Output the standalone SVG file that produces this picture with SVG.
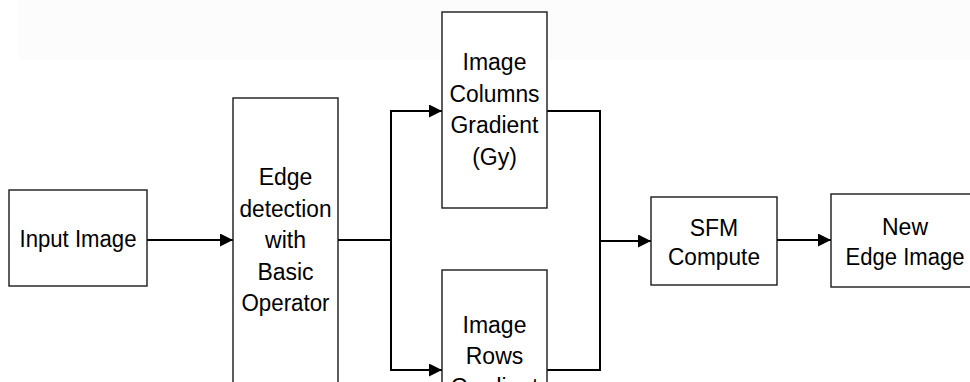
<svg xmlns="http://www.w3.org/2000/svg" width="970" height="382" viewBox="0 0 970 382">
  <style>
    .box { fill: #ffffff; stroke: #1a1a1a; stroke-width: 1.4; }
    .lbl { font-family: "Liberation Sans", Arial, sans-serif; font-size: 23px; fill: #000000; text-anchor: middle; }
    .wire { fill: none; stroke: #000000; stroke-width: 2; }
  </style>
  <defs>
    <marker id="arrow" viewBox="0 0 13 13" refX="13" refY="6.5" markerWidth="13" markerHeight="13" markerUnits="userSpaceOnUse" orient="auto">
      <path d="M0,0 L13,6.5 L0,13 Z" fill="#000000"/>
    </marker>
  </defs>

  <rect width="970" height="382" fill="#ffffff"/>
  <rect x="18" y="0" width="952" height="60" fill="#fcfcfc"/>

  <g id="connectors">
    <line class="wire" x1="147" y1="240" x2="233" y2="240" marker-end="url(#arrow)"/>
    <polyline class="wire" points="338,240 391,240"/>
    <polyline class="wire" points="430,111 391,111 391,370 430,370"/>
    <line class="wire" x1="391" y1="111" x2="442" y2="111" marker-end="url(#arrow)"/>
    <line class="wire" x1="391" y1="370" x2="442" y2="370" marker-end="url(#arrow)"/>
    <polyline class="wire" points="547,111 600,111 600,370 547,370"/>
    <line class="wire" x1="600" y1="241" x2="651" y2="241" marker-end="url(#arrow)"/>
    <line class="wire" x1="777" y1="240" x2="831" y2="240" marker-end="url(#arrow)"/>
  </g>

  <g id="input-image">
    <rect class="box" x="9" y="190" width="138" height="96"/>
    <text class="lbl" x="78" y="247" textLength="117" lengthAdjust="spacingAndGlyphs">Input Image</text>
  </g>

  <g id="edge-detection">
    <rect class="box" x="233" y="98" width="105" height="300"/>
    <text class="lbl" x="285.5" y="185">Edge</text>
    <text class="lbl" x="285.5" y="216.5" textLength="92" lengthAdjust="spacingAndGlyphs">detection</text>
    <text class="lbl" x="285.5" y="248">with</text>
    <text class="lbl" x="285.5" y="279.5">Basic</text>
    <text class="lbl" x="285.5" y="311" textLength="88" lengthAdjust="spacingAndGlyphs">Operator</text>
  </g>

  <g id="columns-gradient">
    <rect class="box" x="442" y="12" width="105" height="196"/>
    <text class="lbl" x="494.5" y="70">Image</text>
    <text class="lbl" x="494.5" y="101.5" textLength="90" lengthAdjust="spacingAndGlyphs">Columns</text>
    <text class="lbl" x="494.5" y="133" textLength="88" lengthAdjust="spacingAndGlyphs">Gradient</text>
    <text class="lbl" x="494.5" y="164.5">(Gy)</text>
  </g>

  <g id="rows-gradient">
    <rect class="box" x="442" y="270" width="105" height="140"/>
    <text class="lbl" x="494.5" y="333">Image</text>
    <text class="lbl" x="494.5" y="364">Rows</text>
    <text class="lbl" x="494.5" y="395" textLength="88" lengthAdjust="spacingAndGlyphs">Gradient</text>
  </g>

  <g id="sfm-compute">
    <rect class="box" x="651" y="197" width="126" height="88"/>
    <text class="lbl" x="714" y="236">SFM</text>
    <text class="lbl" x="714" y="265" textLength="92" lengthAdjust="spacingAndGlyphs">Compute</text>
  </g>

  <g id="new-edge-image">
    <rect class="box" x="831" y="194" width="160" height="93"/>
    <text class="lbl" x="905" y="235">New</text>
    <text class="lbl" x="905" y="265" textLength="119" lengthAdjust="spacingAndGlyphs">Edge Image</text>
  </g>
</svg>
